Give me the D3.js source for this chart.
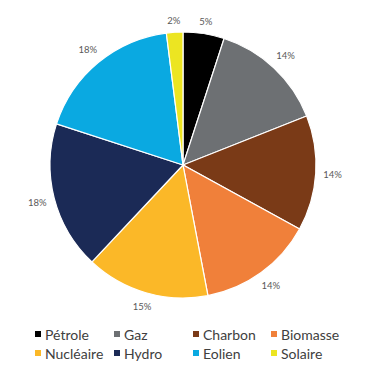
<!DOCTYPE html>
<html>
<head>
<meta charset="utf-8">
<script src="https://cdn.jsdelivr.net/npm/d3@7"></script>
<style>
  body { margin: 0; background: #fff; }
</style>
</head>
<body>
<script>
var width = 388;
var height = 370;

var categories = ["Pétrole", "Gaz", "Charbon", "Biomasse", "Nucléaire", "Hydro", "Eolien", "Solaire"];
var values = [5, 14, 14, 14, 15, 18, 18, 2];
var colors = ["#000000", "#6d7073", "#7a3a17", "#f0803a", "#fbb828", "#1b2a56", "#0aa9e1", "#ece522"];

var cx = 183, cy = 165, radius = 133;
var labelRadius = 140;
var fontFamily = "Lato, 'Open Sans', sans-serif";

var data = categories.map(function(c, i) {
  return { name: c, value: values[i], color: colors[i] };
});

var svg = d3.select("body")
  .append("svg")
    .attr("width", width)
    .attr("height", height);

var pie = d3.pie()
  .value(function(d) { return d.value; })
  .sort(null);

var arc = d3.arc()
  .innerRadius(0)
  .outerRadius(radius);

var arcs = pie(data);

var g = svg.append("g")
  .attr("transform", "translate(" + cx + "," + cy + ")");

g.selectAll("path.slice")
  .data(arcs)
  .enter()
  .append("path")
    .classed("slice", true)
    .attr("d", arc)
    .attr("fill", function(d) { return d.data.color; })
    .attr("stroke", "#fff")
    .attr("stroke-width", 1.2);

// labels outside the end, pushed out by their own half size
var labels = g.selectAll("text.pct")
  .data(arcs)
  .enter()
  .append("text")
    .classed("pct", true)
    .attr("font-family", fontFamily)
    .attr("font-size", 9.5)
    .attr("fill", "#595959")
    .attr("text-anchor", "middle")
    .attr("dominant-baseline", "central")
    .text(function(d) { return d.data.value + "%"; });

labels.each(function(d) {
  var a = (d.startAngle + d.endAngle) / 2;
  var bb = this.getBBox();
  var hw = bb.width / 2, hh = 4.5;
  var r = labelRadius + hw * Math.abs(Math.sin(a)) + hh * Math.abs(Math.cos(a));
  d3.select(this)
    .attr("x", r * Math.sin(a))
    .attr("y", -r * Math.cos(a));
});

// legend
var legendX = d3.scaleOrdinal().domain([0, 1, 2, 3]).range([35, 114, 193, 271]);
var legendY = d3.scaleOrdinal().domain([0, 1]).range([334, 353]);

var legend = svg.selectAll("g.legend-item")
  .data(data)
  .enter()
  .append("g")
    .classed("legend-item", true)
    .attr("transform", function(d, i) {
      return "translate(" + legendX(i % 4) + "," + legendY(Math.floor(i / 4)) + ")";
    });

legend.append("rect")
  .attr("x", 0)
  .attr("y", -3)
  .attr("width", 6)
  .attr("height", 6)
  .attr("fill", function(d) { return d.color; });

legend.append("text")
  .attr("x", 10)
  .attr("y", 0)
  .attr("dominant-baseline", "central")
  .attr("font-family", fontFamily)
  .attr("font-size", 14)
  .attr("fill", "#404040")
  .text(function(d) { return d.name; });
</script>
</body>
</html>
